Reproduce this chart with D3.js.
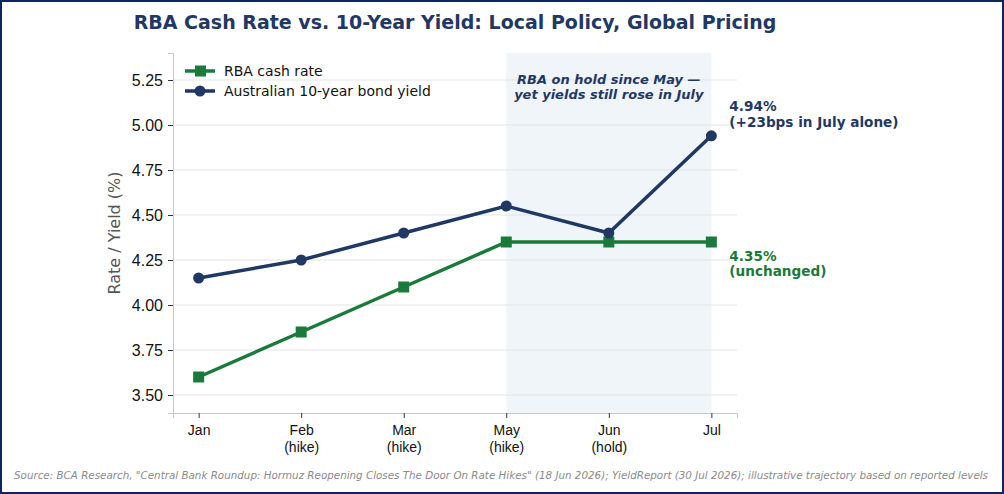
<!DOCTYPE html>
<html>
<head>
<meta charset="utf-8">
<script src="https://cdn.jsdelivr.net/npm/d3@7"></script>
<style>
  body { margin: 0; background: #fff; }
  svg { display: block; font-family: "DejaVu Sans", sans-serif; }
  .tick text { fill: #111; }
</style>
</head>
<body>
<svg width="1004" height="494"></svg>
<script>
"use strict";

const months = ["Jan", "Feb\n(hike)", "Mar\n(hike)", "May\n(hike)", "Jun\n(hold)", "Jul"];
const cashRate = [3.60, 3.85, 4.10, 4.35, 4.35, 4.35];
const bondYield = [4.15, 4.25, 4.40, 4.55, 4.40, 4.94];
const yTicks = [3.50, 3.75, 4.00, 4.25, 4.50, 4.75, 5.00, 5.25];

const green = "#1a7a3a";
const navy = "#1f3864";

const svg = d3.select("svg");
const W = +svg.attr("width"), H = +svg.attr("height");

const plotLeft = 173, plotRight = 737, plotTop = 53, plotBottom = 413;

// outer frame
svg.append("rect")
    .attr("x", 1).attr("y", 1)
    .attr("width", W - 2).attr("height", H - 2)
    .attr("fill", "none")
    .attr("stroke", "#0d2663")
    .attr("stroke-width", 2);

const x = d3.scaleLinear().domain([-0.25, 5.25]).range([plotLeft, plotRight]);
const y = d3.scaleLinear().domain([3.4, 5.4]).range([plotBottom, plotTop]);

// shaded hold period
svg.append("rect")
    .attr("x", x(3)).attr("y", plotTop)
    .attr("width", x(5) - x(3)).attr("height", plotBottom - plotTop)
    .attr("fill", "#dde8f3").attr("opacity", 0.45);

// grid
svg.append("g")
    .selectAll("line")
    .data(yTicks)
    .join("line")
        .attr("x1", plotLeft).attr("x2", plotRight)
        .attr("y1", d => y(d)).attr("y2", d => y(d))
        .attr("stroke", "#e3e3e3").attr("stroke-width", 1);

// axes
const yAxis = svg.append("g")
    .attr("transform", `translate(${plotLeft},0)`)
    .call(d3.axisLeft(y).tickValues(yTicks).tickFormat(d3.format(".2f")).tickSize(5).tickPadding(5));
yAxis.select(".domain").attr("stroke", "#c8c8c8");
yAxis.selectAll(".tick line").attr("stroke", "#333");
yAxis.selectAll(".tick text").attr("font-size", 16);

const xAxis = svg.append("g")
    .attr("transform", `translate(0,${plotBottom})`)
    .call(d3.axisBottom(x).tickValues(d3.range(months.length)).tickFormat("").tickSize(5));
xAxis.select(".domain").attr("stroke", "#c8c8c8");
xAxis.selectAll(".tick line").attr("stroke", "#333");
xAxis.selectAll(".tick").each(function(d) {
    const lines = months[d].split("\n");
    d3.select(this).append("text")
        .attr("fill", "#111")
        .attr("font-size", 14)
        .attr("text-anchor", "middle")
        .selectAll("tspan")
        .data(lines)
        .join("tspan")
            .attr("x", 0)
            .attr("y", (l, i) => 22 + i * 17)
            .text(l => l);
});

// y label
svg.append("text")
    .attr("transform", `translate(120 ${(plotTop + plotBottom) / 2}) rotate(-90)`)
    .attr("text-anchor", "middle")
    .attr("font-size", 16)
    .attr("fill", "#555")
    .text("Rate / Yield (%)");

// lines
const line = d3.line().x((d, i) => x(i)).y(d => y(d));

svg.append("path").datum(cashRate)
    .attr("d", line).attr("fill", "none")
    .attr("stroke", green).attr("stroke-width", 3.5);
svg.append("g").selectAll("rect")
    .data(cashRate)
    .join("rect")
        .attr("x", (d, i) => x(i) - 5.5).attr("y", d => y(d) - 5.5)
        .attr("width", 11).attr("height", 11)
        .attr("fill", green);

svg.append("path").datum(bondYield)
    .attr("d", line).attr("fill", "none")
    .attr("stroke", navy).attr("stroke-width", 3.5);
svg.append("g").selectAll("circle")
    .data(bondYield)
    .join("circle")
        .attr("cx", (d, i) => x(i)).attr("cy", d => y(d))
        .attr("r", 5.5)
        .attr("fill", navy);

// legend
const legend = svg.append("g").attr("transform", "translate(185,71)");
[{label: "RBA cash rate", color: green, shape: "square"},
 {label: "Australian 10-year bond yield", color: navy, shape: "circle"}].forEach((s, i) => {
    const g = legend.append("g").attr("transform", `translate(0,${i * 20})`);
    g.append("line").attr("x1", 0).attr("x2", 30).attr("stroke", s.color).attr("stroke-width", 3.5);
    if (s.shape === "square")
        g.append("rect").attr("x", 10).attr("y", -5.5).attr("width", 11).attr("height", 11).attr("fill", s.color);
    else
        g.append("circle").attr("cx", 15).attr("r", 5.5).attr("fill", s.color);
    g.append("text").attr("x", 39).attr("dy", "0.35em").attr("font-size", 14).attr("fill", "#111").text(s.label);
});

// shaded region note
const note = svg.append("text")
    .attr("text-anchor", "middle")
    .attr("font-size", 13).attr("font-weight", "bold").attr("font-style", "italic")
    .attr("fill", navy);
note.append("tspan").attr("x", (x(3) + x(5)) / 2).attr("y", 84).text("RBA on hold since May \u2014");
note.append("tspan").attr("x", (x(3) + x(5)) / 2).attr("y", 99).text("yet yields still rose in July");

// end labels
const endX = x(5) + 18;
const yl = svg.append("text").attr("font-size", 13.6).attr("font-weight", "bold").attr("fill", navy);
yl.append("tspan").attr("x", endX).attr("y", y(bondYield[5]) - 25).text(`${bondYield[5].toFixed(2)}%`);
yl.append("tspan").attr("x", endX).attr("y", y(bondYield[5]) - 9).text("(+23bps in July alone)");

const cl = svg.append("text").attr("font-size", 13.6).attr("font-weight", "bold").attr("fill", green);
cl.append("tspan").attr("x", endX).attr("y", y(cashRate[5]) + 19).text(`${cashRate[5].toFixed(2)}%`);
cl.append("tspan").attr("x", endX).attr("y", y(cashRate[5]) + 34).text("(unchanged)");

// title
svg.append("text")
    .attr("x", (plotLeft + plotRight) / 2).attr("y", 29)
    .attr("text-anchor", "middle")
    .attr("font-size", 19).attr("font-weight", "bold")
    .attr("fill", navy)
    .text("RBA Cash Rate vs. 10-Year Yield: Local Policy, Global Pricing");

// source
svg.append("text")
    .attr("x", 14).attr("y", 479)
    .attr("font-size", 10.3).attr("font-style", "italic")
    .attr("fill", "#8a8a8a")
    .attr("textLength", 974).attr("lengthAdjust", "spacingAndGlyphs")
    .text("Source: BCA Research, \"Central Bank Roundup: Hormuz Reopening Closes The Door On Rate Hikes\" (18 Jun 2026); YieldReport (30 Jul 2026); illustrative trajectory based on reported levels");
</script>
</body>
</html>
